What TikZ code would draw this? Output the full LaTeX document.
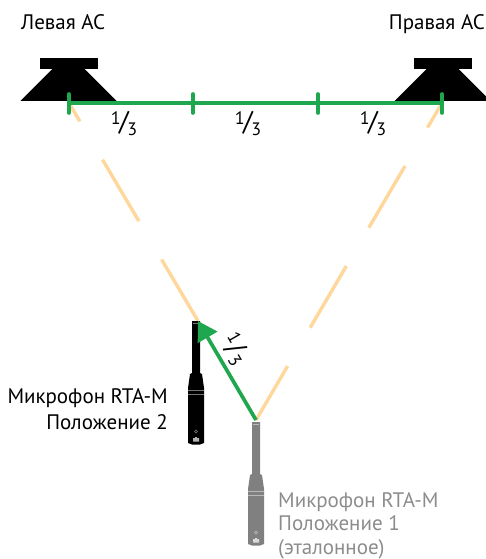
\documentclass[tikz,border=0pt]{standalone}
\usepackage{fontspec}
\usepackage{xcolor}
\setmainfont{PT Sans}
\usetikzlibrary{arrows.meta,positioning}
\definecolor{rulegreen}{HTML}{1FA750}
\definecolor{pathorange}{HTML}{FFD69C}
\definecolor{micgray}{HTML}{808080}
\definecolor{labelgray}{HTML}{8C8C8C}
\newcommand{\onethird}[1][-1.5pt]{\raisebox{6pt}{\fontsize{18}{18}\selectfont 1}\kern#1{\fontsize{27}{27}\selectfont /}\kern#1\raisebox{-5pt}{\fontsize{18}{18}\selectfont 3}}
\tikzset{
    label text/.style={font=\fontsize{21}{26}\selectfont, inner sep=0pt},
    third text/.style={inner sep=0pt},
    green rule/.style={draw=rulegreen, line width=3.7pt},
    green tick/.style={draw=rulegreen, line width=3.6pt, line cap=round},
    sight line/.style={draw=pathorange, line width=3.4pt, dash pattern=on 71.5pt off 44.5pt},
    speaker/.pic={
        \fill[black] (-29,-45) rectangle (29,-34);
        \fill[black] (-16,-34) -- (16,-34) -- (48,-2) -- (-48,-2) -- cycle;
    },
    microphone/.pic={
        \fill[pic actions] (-4,0) -- (4,0) -- (4,52) -- (6,53) -- (8,67) -- (8,122) -- (4,123.5) -- (-4,123.5) -- (-8,122) -- (-8,67) -- (-6,53) -- (-4,52) -- cycle;
        \fill[white, opacity=0.45] (-8,69) rectangle (8,70.2);
        \fill[white, opacity=0.45] (-8,73) rectangle (8,74.2);
        \fill[white, opacity=0.45] (-3,1.5) rectangle (3,2.3);
        \draw[white, opacity=0.5, line width=0.4pt] (0,110.5) circle (1.5);
        \fill[white, opacity=0.7] (-3,117) rectangle (-1.2,120.5) (-0.8,116) rectangle (0.8,120.5) (1.2,117) rectangle (3,120.5);
    },
}
\begin{document}
\begin{tikzpicture}[x=1pt, y=-1pt]
    \useasboundingbox (0,0) rectangle (485,559);

    % base line points
    \coordinate (tickA) at (69,103);
    \coordinate (tickB) at (193,103);
    \coordinate (tickC) at (318,103);
    \coordinate (tickD) at (442,103);
    \coordinate (micTopLeft) at (198,321);
    \coordinate (micTopRight) at (256,420);

    \draw[sight line] (micTopLeft) -- (tickA);
    \draw[sight line, dash phase=43pt] (tickD) -- (micTopRight);

    \pic at (68.5,103) {speaker};
    \pic at (442.5,103) {speaker};

    \node[label text, anchor=base west] (labelLeft) at (21,30) {Левая АС};
    \node[label text, anchor=base east] (labelRight) at (485,30) {Правая АС};

    \pic[fill=black] at (196,321) {microphone};
    \pic[fill=micgray] at (256,422) {microphone};

    \draw[green rule] (tickA) -- (tickD);
    \foreach \t in {tickA,tickB,tickC,tickD}
        \draw[green tick] ([yshift=-10pt]\t) -- ([yshift=9pt]\t);

    \node[third text] (thirdA) at (124,123) {\onethird};
    \node[third text] (thirdB) at (248,123) {\onethird};
    \node[third text] (thirdC) at (373,123) {\onethird};
    \node[third text, rotate=-60] (thirdD) at (235,349) {\onethird[0.5pt]};

    \draw[green rule, -{Triangle[length=19pt,width=22pt]}] (micTopRight) -- (micTopLeft);

    \node[label text, anchor=base east] (labelMicA) at (168,403) {Микрофон RTA-M};
    \node[label text, anchor=base east] (labelMicB) at (168,429) {Положение 2};
    \node[label text, anchor=base west, text=labelgray] (labelMicC) at (278,507) {Микрофон RTA-M};
    \node[label text, anchor=base west, text=labelgray] (labelMicD) at (278,530) {Положение 1};
    \node[label text, anchor=base west, text=labelgray] (labelMicE) at (278,554) {(эталонное)};
\end{tikzpicture}
\end{document}
